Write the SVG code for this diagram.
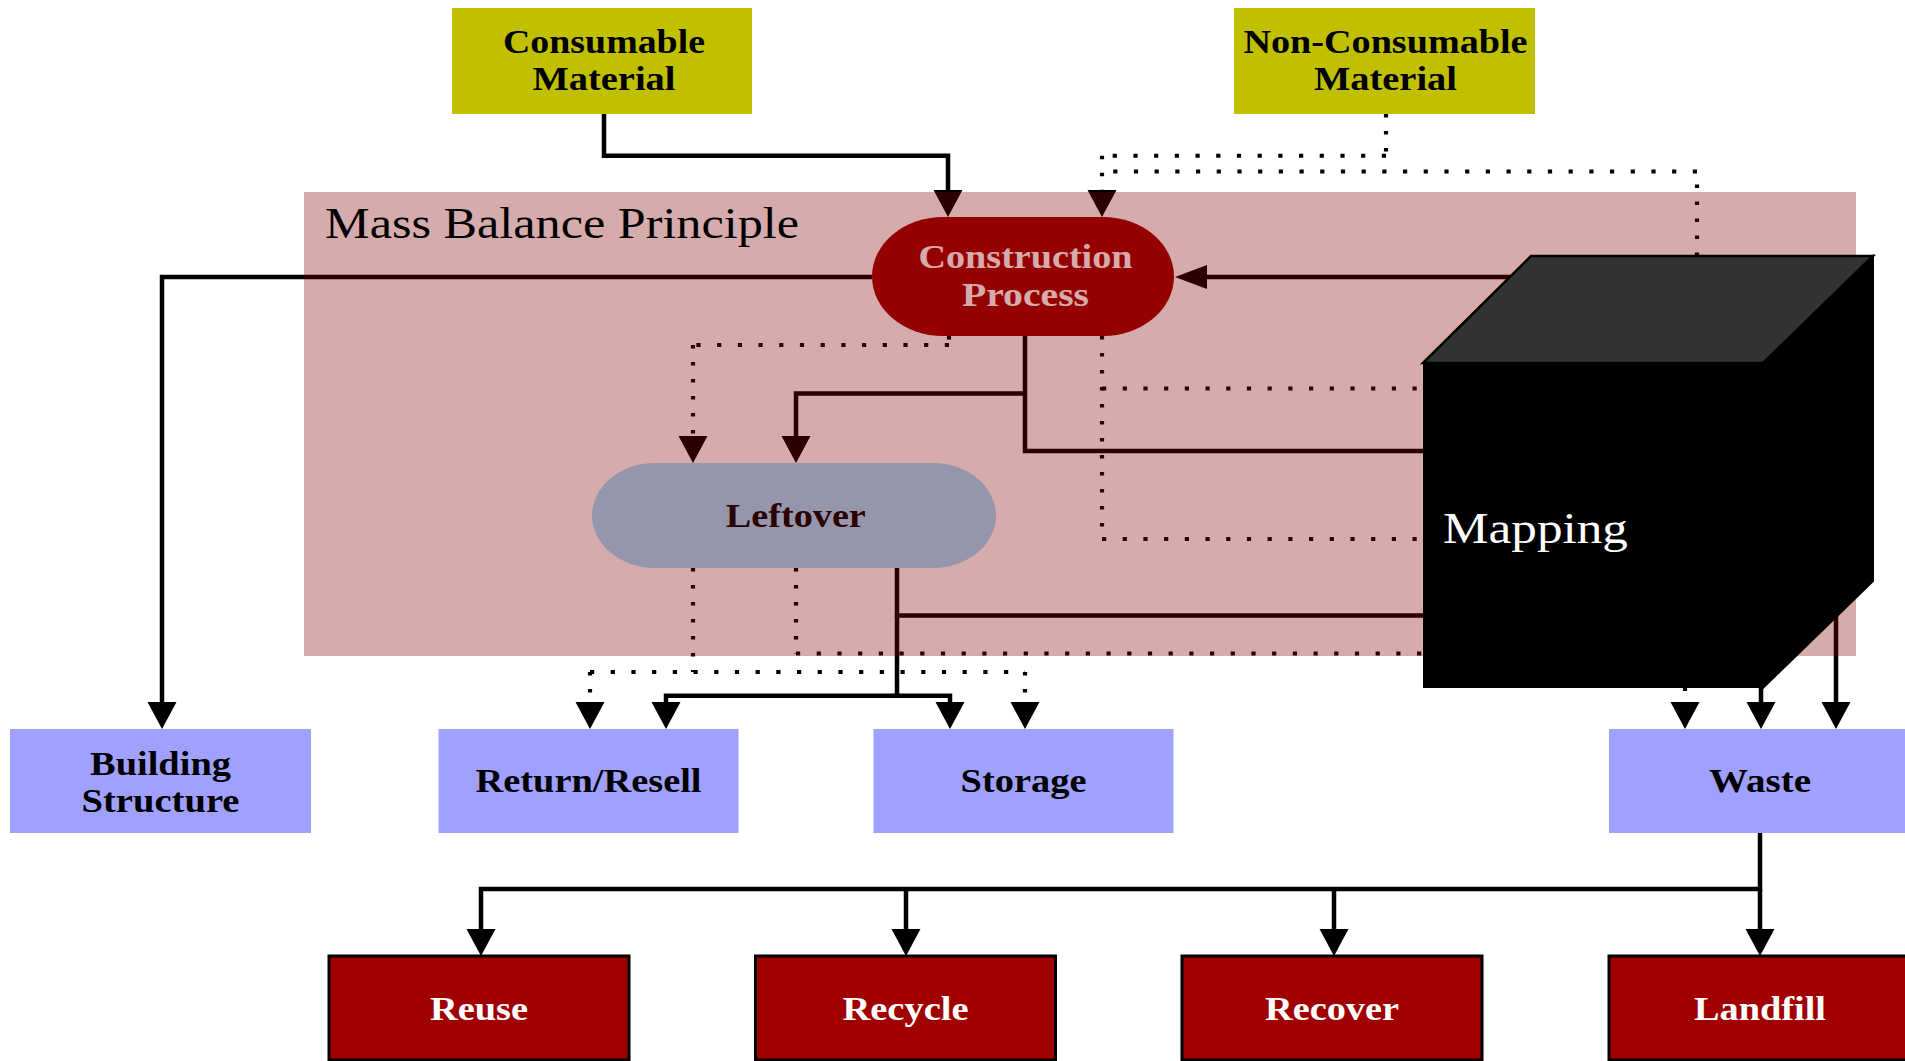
<svg xmlns="http://www.w3.org/2000/svg" width="1905" height="1061" viewBox="0 0 1905 1061">
  <defs>
    <style>
      .ln { fill: none; stroke: #000; stroke-width: 4.5; }
      .dh { fill: none; stroke: #000; stroke-width: 4; stroke-dasharray: 4.2 16.5; }
      .dv { fill: none; stroke: #000; stroke-width: 4.2; stroke-dasharray: 3.6 13.4; }
      .lbl { font-family: "Liberation Serif", "Times New Roman", serif; font-weight: bold; font-size: 33px; text-anchor: middle; }
      .big { font-family: "Liberation Serif", "Times New Roman", serif; font-size: 44px; }
      .material { fill: #c0c000; }
      .outcome { fill: #a0a0ff; }
      .fate { fill: #a00000; stroke: #000; stroke-width: 3; }
    </style>
    <!-- vertical arrowhead: 27 long, 29 wide, starts at the path end -->
    <marker id="av" markerUnits="userSpaceOnUse" viewBox="0 -15 27 30" markerWidth="27" markerHeight="30" refX="0" refY="0" orient="auto" overflow="visible">
      <path d="M0,-14.5 L27,0 L0,14.5 z" fill="#000"/>
    </marker>
    <!-- horizontal arrowhead: 32 long, 24 tall -->
    <marker id="ah" markerUnits="userSpaceOnUse" viewBox="0 -12 32 24" markerWidth="32" markerHeight="24" refX="0" refY="0" orient="auto" overflow="visible">
      <path d="M0,-12 L32,0 L0,12 z" fill="#000"/>
    </marker>
  </defs>

  <rect width="1905" height="1061" fill="#fff"/>

  <!-- connectors -->
  <g id="connectors">
    <!-- consumable material -> construction process -->
    <path class="ln" d="M604,114 V155.7 H948 V190" marker-end="url(#av)"/>
    <!-- non-consumable material -> construction process (dotted) -->
    <path class="dv" d="M1386,114 V155.7"/>
    <path class="dh" d="M1386,155.7 H1102"/>
    <path class="dv" d="M1102,155.7 V190" marker-end="url(#av)"/>
    <!-- mapping -> construction process (dotted, over the top) -->
    <path class="dv" d="M1697,256 V171.6"/>
    <path class="dh" d="M1697,171.6 H1102"/>
    <!-- mapping -> construction process -->
    <path class="ln" d="M1560,277 H1207" marker-end="url(#ah)"/>
    <!-- construction process -> building structure -->
    <path class="ln" d="M872,277 H162 V702" marker-end="url(#av)"/>
    <!-- construction process -> mapping -->
    <path class="ln" d="M1025,336 V451 H1450"/>
    <!-- construction process -> leftover -->
    <path class="ln" d="M1025,393.5 H796 V436" marker-end="url(#av)"/>
    <path class="dv" d="M949,336 V345"/>
    <path class="dh" d="M949,345 H693"/>
    <path class="dv" d="M693,345 V436" marker-end="url(#av)"/>
    <!-- construction process -> mapping (dotted) -->
    <path class="dv" d="M1102,336 V539"/>
    <path class="dh" d="M1102,388.5 H1423"/>
    <path class="dh" d="M1102,539 H1423"/>
    <!-- leftover -> mapping -->
    <path class="ln" d="M897,568 V615.5 H1450"/>
    <!-- leftover -> return/resell and storage -->
    <path class="ln" d="M897,615 V695.7 H666 V702" marker-end="url(#av)"/>
    <path class="ln" d="M897,695.7 H950 V702" marker-end="url(#av)"/>
    <path class="dv" d="M693,568 V672"/>
    <path class="dh" d="M590,672 H1025"/>
    <path class="dv" d="M590,672 V702" marker-end="url(#av)"/>
    <path class="dv" d="M1025,672 V702" marker-end="url(#av)"/>
    <!-- leftover -> waste (dotted, behind mapping) -->
    <path class="dv" d="M796,568 V653.5"/>
    <path class="dh" d="M796,653.5 H1685"/>
    <path class="dv" d="M1685,653.5 V702" marker-end="url(#av)"/>
    <!-- mapping -> waste -->
    <path class="ln" d="M1761,600 V702" marker-end="url(#av)"/>
    <path class="ln" d="M1836,500 V702" marker-end="url(#av)"/>
    <!-- waste -> reuse / recycle / recover / landfill -->
    <path class="ln" d="M1760,833 V889 H481 V929" marker-end="url(#av)"/>
    <path class="ln" d="M906,889 V929" marker-end="url(#av)"/>
    <path class="ln" d="M1334,889 V929" marker-end="url(#av)"/>
    <path class="ln" d="M1760,889 V929" marker-end="url(#av)"/>
  </g>

  <g id="construction-process">
    <rect x="872" y="217" width="302" height="119" rx="71" ry="59.5" fill="#a00000"/>
    <text class="lbl" fill="#fff" x="1025.5" y="268.3" textLength="214" lengthAdjust="spacingAndGlyphs">Construction</text>
    <text class="lbl" fill="#fff" x="1025.5" y="305.7" textLength="127" lengthAdjust="spacingAndGlyphs">Process</text>
  </g>

  <g id="leftover">
    <rect x="592" y="463" width="404" height="105" rx="63" ry="52.5" fill="#a0e0ff"/>
    <text class="lbl" fill="#000" x="795.8" y="526.7" textLength="140" lengthAdjust="spacingAndGlyphs">Leftover</text>
  </g>

  <!-- mass balance boundary: translucent maroon wash over everything inside it -->
  <g id="mass-balance">
    <rect x="304" y="192" width="1552" height="464" fill="#800000" fill-opacity="0.33"/>
    <text class="big" fill="#000" x="325" y="237.5" textLength="474" lengthAdjust="spacingAndGlyphs">Mass Balance Principle</text>
  </g>

  <g id="mapping">
    <polygon points="1763,363 1873,256 1873,581 1763,688" fill="#000" stroke="#000" stroke-width="2"/>
    <polygon points="1423,363 1531,256 1873,256 1763,363" fill="#333" stroke="#000" stroke-width="2.5"/>
    <rect x="1423" y="363" width="340" height="325" fill="#000"/>
    <text class="big" fill="#fff" x="1443" y="543" textLength="185" lengthAdjust="spacingAndGlyphs">Mapping</text>
  </g>

  <g id="consumable-material">
    <rect class="material" x="452" y="8" width="300" height="106"/>
    <text class="lbl" x="604" y="53.3" textLength="202" lengthAdjust="spacingAndGlyphs">Consumable</text>
    <text class="lbl" x="604" y="90" textLength="143" lengthAdjust="spacingAndGlyphs">Material</text>
  </g>

  <g id="non-consumable-material">
    <rect class="material" x="1234" y="8" width="301" height="106"/>
    <text class="lbl" x="1385.5" y="53.3" textLength="284" lengthAdjust="spacingAndGlyphs">Non-Consumable</text>
    <text class="lbl" x="1385.5" y="90" textLength="143" lengthAdjust="spacingAndGlyphs">Material</text>
  </g>

  <g id="building-structure">
    <rect class="outcome" x="10" y="729" width="301" height="104"/>
    <text class="lbl" x="160.5" y="775" textLength="141" lengthAdjust="spacingAndGlyphs">Building</text>
    <text class="lbl" x="160.5" y="811.7" textLength="158" lengthAdjust="spacingAndGlyphs">Structure</text>
  </g>

  <g id="return-resell">
    <rect class="outcome" x="438.5" y="729" width="300" height="104"/>
    <text class="lbl" x="588.5" y="792" textLength="226" lengthAdjust="spacingAndGlyphs">Return/Resell</text>
  </g>

  <g id="storage">
    <rect class="outcome" x="873.5" y="729" width="300" height="104"/>
    <text class="lbl" x="1023.5" y="792" textLength="126" lengthAdjust="spacingAndGlyphs">Storage</text>
  </g>

  <g id="waste">
    <rect class="outcome" x="1609" y="729" width="301" height="104"/>
    <text class="lbl" x="1760" y="792" textLength="102" lengthAdjust="spacingAndGlyphs">Waste</text>
  </g>

  <g id="reuse">
    <rect class="fate" x="329" y="956" width="300" height="104"/>
    <text class="lbl" fill="#fff" x="479" y="1020" textLength="98" lengthAdjust="spacingAndGlyphs">Reuse</text>
  </g>

  <g id="recycle">
    <rect class="fate" x="755.5" y="956" width="300" height="104"/>
    <text class="lbl" fill="#fff" x="905.5" y="1020" textLength="126" lengthAdjust="spacingAndGlyphs">Recycle</text>
  </g>

  <g id="recover">
    <rect class="fate" x="1182" y="956" width="300" height="104"/>
    <text class="lbl" fill="#fff" x="1332" y="1020" textLength="134" lengthAdjust="spacingAndGlyphs">Recover</text>
  </g>

  <g id="landfill">
    <rect class="fate" x="1609" y="956" width="301" height="104"/>
    <text class="lbl" fill="#fff" x="1760" y="1020" textLength="132" lengthAdjust="spacingAndGlyphs">Landfill</text>
  </g>
</svg>
